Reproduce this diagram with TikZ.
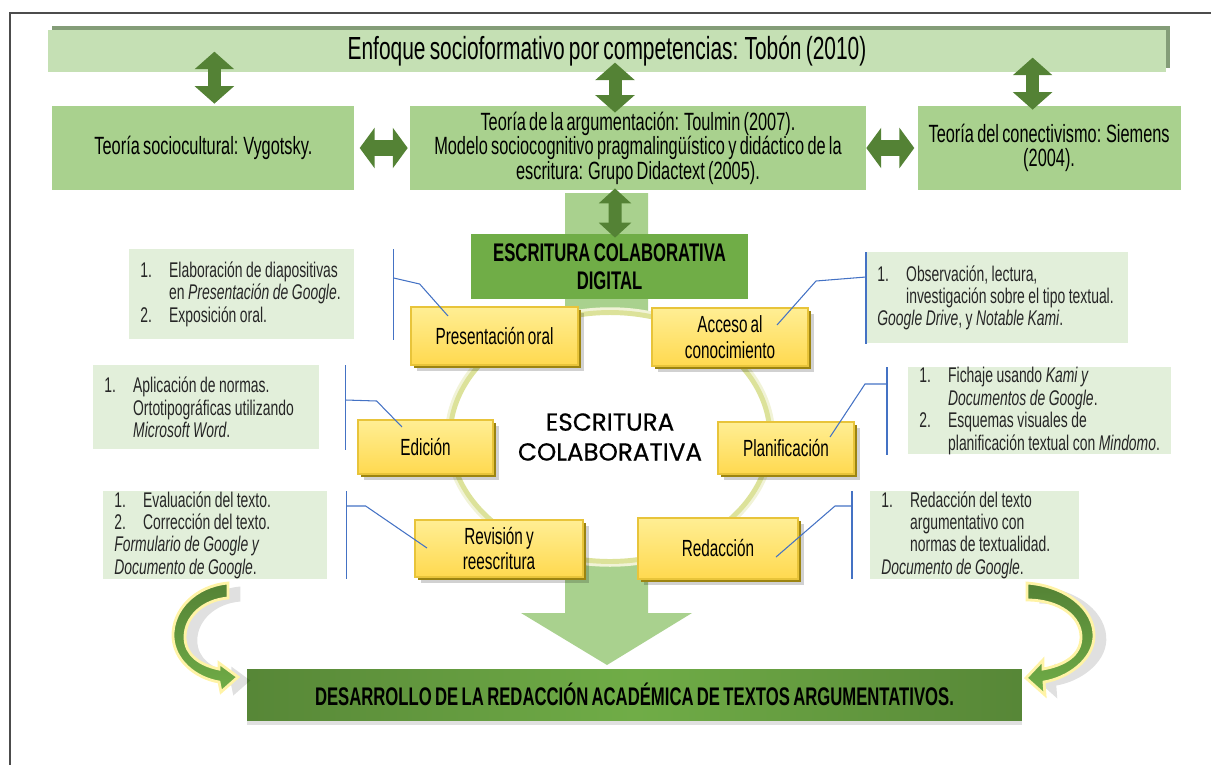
\documentclass[tikz,border=0pt]{standalone}
\usepackage{fontspec}
\setmainfont{Liberation Sans}[FakeStretch=0.655, WordSpace=0.72]
\newfontfamily\centrofont{Poppins}[FakeBold=0.6]
\usetikzlibrary{positioning, calc, arrows.meta, shadows, shapes.geometric}
\definecolor{verdeclaro}{HTML}{C5E0B4}
\definecolor{verdemedio}{HTML}{A9D18E}
\definecolor{verdeosc}{HTML}{70AD47}
\definecolor{flecha}{HTML}{548235}
\definecolor{sombraverde}{HTML}{6F8C60}
\definecolor{listafondo}{HTML}{E2EFDA}
\definecolor{azul}{HTML}{4472C4}
\definecolor{anillo}{HTML}{DCE29A}
\definecolor{amarillo1}{HTML}{FFEE94}
\definecolor{amarillo2}{HTML}{FFD94F}
\definecolor{amarilloborde}{HTML}{E8C43A}
\definecolor{bisel}{HTML}{9C8410}
\definecolor{brillo}{HTML}{FFF3A6}
\newcommand\itm[2]{\makebox[16.4pt][l]{#1}\mbox{#2}} % numbered line of a list
\newcommand\sang[1]{\hspace*{16.4pt}\mbox{#1}} % indented line of a list
\tikzset{x=0.02cm, y=-0.02cm, % One unit is one pixel of the scheme, y runs downwards
tema/.style={ % Sets the properties for the three theory boxes
fill=verdemedio, minimum height=1.68cm, align=center,
font=\fontsize{14.2}{13.9}\selectfont},
etapa/.style={ % Yellow stage boxes round the circle
top color=amarillo1, bottom color=amarillo2, draw=amarilloborde, line width=0.8pt,
align=center, font=\fontsize{13.3}{14.7}\selectfont,
drop shadow={shadow xshift=3.5pt, shadow yshift=-3.5pt, fill=black, opacity=.18},
drop shadow={shadow xshift=1.8pt, shadow yshift=-1.8pt, fill=bisel, opacity=1}},
lista/.style={ % Light green lists of activities
fill=listafondo, anchor=north west, inner xsep=0.22cm, inner ysep=0pt, align=left,
text=black!85, font=\fontsize{12.1}{12.76}\selectfont,
execute at begin node={\spaceskip=2pt\relax}},
llamada/.style={draw=azul, line width=0.6pt}, % Callout lines
dobleflecha/.style={ % Big green double arrows
draw=flecha, line width=7.4pt,
{Triangle[width=22pt,length=10pt]}-{Triangle[width=22pt,length=10pt]}},
curva/.style={ % Curved arrows towards the result
top color=flecha, bottom color=verdeosc, draw=brillo, line width=1.6pt,
drop shadow={shadow xshift=7pt, shadow yshift=-2pt, fill=black, opacity=.12}}}
\begin{document}
\begin{tikzpicture}
    \useasboundingbox (0,0) rectangle (1211,765);
    \draw[black!70, line width=0.8pt] (1211,13) -- (10,13) -- (10,765);
    
    % light green stem with the big arrow
    \fill[verdemedio] (565,193) -- (648,193) -- (648,613) -- (692,613) -- (607,665) -- (521,613) -- (565,613) -- cycle;
    
    \node[fill=verdeclaro, minimum width=22.36cm, minimum height=0.76cm,
      drop shadow={shadow xshift=2.3pt, shadow yshift=2.3pt, fill=sombraverde, opacity=.85},
      font=\fontsize{18.2}{19}\selectfont] (enfoque) at (607,51) {Enfoque socioformativo por competencias: Tobón (2010)};
    \node[tema, minimum width=9.12cm, minimum height=1.6cm] (argum) at (638,148) {Teoría de la argumentación: Toulmin (2007).\\Modelo sociocognitivo pragmalingüístico y didáctico de la\\escritura: Grupo Didactext (2005).};
    \node[tema, minimum width=6.04cm, left=1.1cm of argum] (socio) {Teoría sociocultural: Vygotsky.};
    \node[tema, minimum width=5.26cm, right=1.02cm of argum] (conect) {Teoría del conectivismo: Siemens\\(2004).};
    \node[fill=verdeosc, minimum width=5.54cm, minimum height=1.3cm, align=center,
      font=\bfseries\fontsize{14.5}{16}\selectfont] (digital) at (609.5,266.5) {ESCRITURA COLABORATIVA\\DIGITAL};
    
    \node[ellipse, draw=anillo, line width=2.8pt, fill=white, preaction={draw=anillo!40, line width=6pt},
      minimum width=6.4cm, minimum height=4.98cm, align=center,
      font=\centrofont\fontsize{14}{17}\selectfont] (centro) at (610,437) {ESCRITURA\\COLABORATIVA};
    
    \node[etapa, minimum width=3.34cm, minimum height=1.16cm] (pres) at (494.5,336) {Presentación oral};
    \node[etapa, minimum width=3.12cm, minimum height=1.16cm] (acc) at (730,337) {Acceso al\\conocimiento};
    \node[etapa, minimum width=2.7cm, minimum height=1.08cm] (edic) at (425.5,447) {Edición};
    \node[etapa, minimum width=2.72cm, minimum height=1.04cm] (plan) at (786,448) {Planificación};
    \node[etapa, minimum width=3.36cm, minimum height=1.14cm] (rev) at (499,548.5) {Revisión y\\reescritura};
    \node[etapa, minimum width=3.2cm, minimum height=1.22cm] (red) at (718,548.5) {Redacción};
    
    \node[lista, text width=4.06cm, minimum height=1.8cm] (lpres) at (129,249) {\itm{1.}{Elaboración de diapositivas}\\\sang{en \textit{Presentación de Google}.}\\\itm{2.}{Exposición oral.}};
    \node[lista, text width=4.08cm, minimum height=1.68cm] (ledic) at (93,365) {\itm{1.}{Aplicación de normas.}\\\sang{Ortotipográficas utilizando}\\\sang{\textit{Microsoft Word}.}};
    \node[lista, text width=4.04cm, minimum height=1.72cm] (lrev) at (103,491) {\itm{1.}{Evaluación del texto.}\\\itm{2.}{Corrección del texto.}\\\mbox{\textit{Formulario de Google y}}\\\mbox{\textit{Documento de Google}.}};
    \node[lista, text width=4.8cm, minimum height=1.82cm] (racc) at (866,252) {\itm{1.}{Observación, lectura,}\\\sang{investigación sobre el tipo textual.}\\\mbox{\textit{Google Drive}, y \textit{Notable Kami}.}};
    \node[lista, text width=4.82cm, minimum height=1.72cm] (rplan) at (908,367) {\itm{1.}{Fichaje usando \textit{Kami y}}\\\sang{\textit{Documentos de Google}.}\\\itm{2.}{Esquemas visuales de}\\\sang{planificación textual con \textit{Mindomo}.}};
    \node[lista, text width=3.74cm, minimum height=1.72cm] (rred) at (870,491) {\itm{1.}{Redacción del texto}\\\sang{argumentativo con}\\\sang{normas de textualidad.}\\\mbox{\textit{Documento de Google}.}};
    
    % callouts
    \draw[llamada] ($(lpres.north east)+(39,0)$) -- ($(lpres.south east)+(39,0)$);
    \draw[llamada] ($(lpres.north east)+(39,29)$) -- ++(26,6) -- ($(pres)+(-46.5,-20)$);
    \draw[llamada] ($(ledic.north east)+(26,0)$) -- ($(ledic.south east)+(26,0)$);
    \draw[llamada] ($(ledic.north east)+(26,35)$) -- ++(31,1) -- ($(edic)+(-23.5,-20)$);
    \draw[llamada] ($(lrev.north east)+(19,0)$) -- ($(lrev.south east)+(19,0)$);
    \draw[llamada] ($(lrev.north east)+(19,15)$) -- ++(19,0) -- ($(rev)+(-72,-0.5)$);
    \draw[llamada] (racc.north west) -- (racc.south west);
    \draw[llamada] ($(racc.north west)+(0,25)$) -- ++(-50,4) -- ($(acc)+(47,-12)$);
    \draw[llamada] ($(rplan.north west)+(-21,0)$) -- ($(rplan.south west)+(-21,0)$);
    \draw[llamada] ($(rplan.north west)+(-21,17)$) -- ++(-22,0) -- ($(plan)+(44,-11)$);
    \draw[llamada] ($(rred.north west)+(-18,0)$) -- ($(rred.south west)+(-18,0)$);
    \draw[llamada] ($(rred.north west)+(-18,15)$) -- ++(-17,0) -- ($(red)+(58,8.5)$);
    
    % double arrows
    \draw[dobleflecha] ($(socio.north)+(11,-2)$) -- ($(socio.north)+(11,-54)$);
    \draw[dobleflecha] ($(argum.north)+(-23,7)$) -- ($(argum.north)+(-23,-43)$);
    \draw[dobleflecha] ($(conect.north)+(-16.5,4)$) -- ($(conect.north)+(-16.5,-48)$);
    \draw[dobleflecha, line width=9pt, {Triangle[width=22.7pt,length=8.5pt]}-{Triangle[width=22.7pt,length=8.5pt]}] ($(socio.east)+(5,0)$) -- ($(argum.west)+(-2,0)$);
    \draw[dobleflecha, line width=9pt, {Triangle[width=22.7pt,length=8.5pt]}-{Triangle[width=22.7pt,length=8.5pt]}] (argum.east) -- ($(conect.west)+(-3,0)$);
    \draw[dobleflecha, {Triangle[width=18pt,length=8.5pt]}-{Triangle[width=18pt,length=8.5pt]}] ($(argum.south)+(-23,-2)$) -- ($(digital.north)+(5.5,4)$);
    
    \node[left color=flecha!90!verdeosc, right color=flecha!90!verdeosc, middle color=verdeosc,
      minimum width=15.5cm, minimum height=1.02cm,
      drop shadow={shadow xshift=0pt, shadow yshift=-3pt, fill=black, opacity=.12},
      font=\bfseries\fontsize{14.5}{16}\selectfont] (desarrollo) at (634.5,694.5) {DESARROLLO DE LA REDACCIÓN ACADÉMICA DE TEXTOS ARGUMENTATIVOS.};
    
    \draw[curva] (228,583) .. controls (195,586) and (172,610) .. (173,637) .. controls (174,660) and (195,678) .. (219,682) -- (221,692) -- (238,677) -- (219,663) -- (219,669) .. controls (200,665) and (185,655) .. (185,637) .. controls (185,617) and (203,600) .. (228,598) -- cycle;
    \draw[curva] (1027,583) .. controls (1067,586) and (1095,610) .. (1094,637) .. controls (1093,660) and (1068,678) .. (1044,682) -- (1045,695) -- (1026,678) -- (1043,660) -- (1043,669) .. controls (1065,665) and (1081,655) .. (1081,637) .. controls (1081,617) and (1060,600) .. (1027,600) -- cycle;
    
\end{tikzpicture}
\end{document}
